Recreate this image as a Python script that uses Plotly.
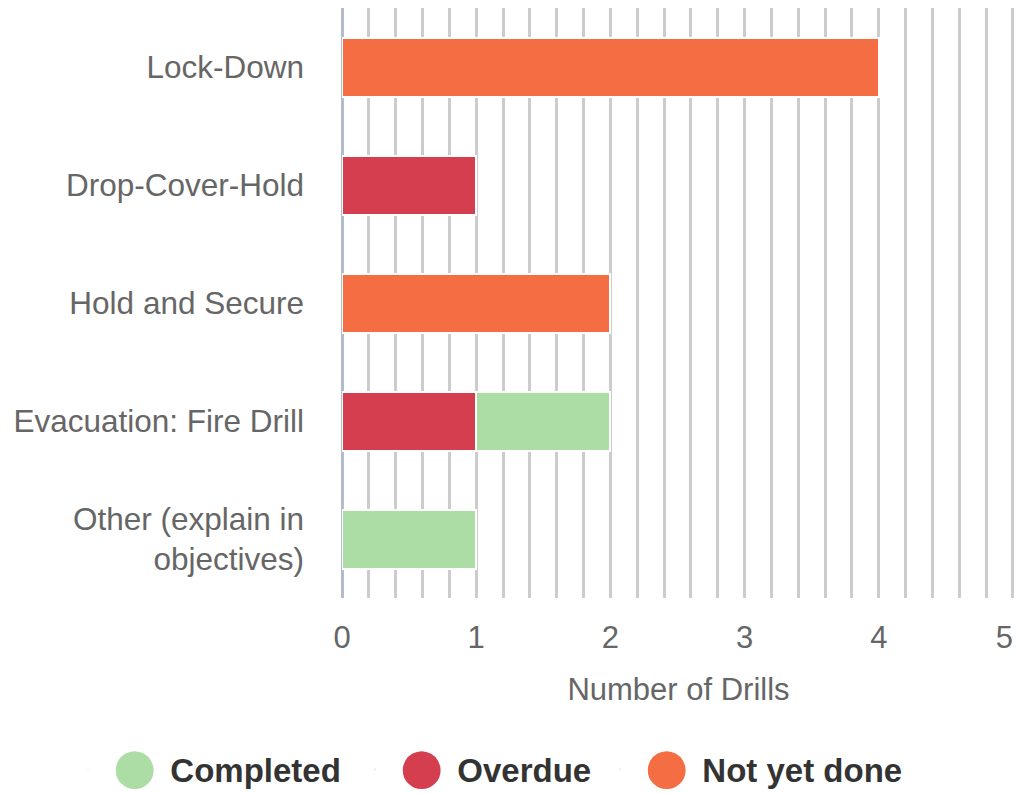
import plotly.graph_objects as go

categories = ["Lock-Down", "Drop-Cover-Hold", "Hold and Secure",
              "Evacuation: Fire Drill", "Other (explain in<br>objectives)"]
overdue = [0, 1, 0, 1, 0]
completed = [0, 0, 0, 1, 1]
not_yet_done = [4, 0, 2, 0, 0]
x_ticks = [0, 1, 2, 3, 4, 5]
x_ticktext = ["0", "1", "2", "3", "4", "5\u00a0\u00a0"]

C_COMPLETED = "#abdda4"
C_OVERDUE = "#d53e4f"
C_NOTYET = "#f46d43"
FONT = "Liberation Sans, Arial, sans-serif"

fig = go.Figure()
# stacking order: Overdue first, then Completed, then Not yet done
for name, vals, col in [("Overdue", overdue, C_OVERDUE),
                        ("Completed", completed, C_COMPLETED),
                        ("Not yet done", not_yet_done, C_NOTYET)]:
    fig.add_trace(go.Bar(
        y=categories, x=vals, name=name, orientation="h",
        marker=dict(color=col, line=dict(color="white", width=2)),
        showlegend=False,
    ))

# legend entries with large round swatches, one legend box per entry
legend_slots = [("Completed", C_COMPLETED, "legend", 68),
                ("Overdue", C_OVERDUE, "legend2", 355),
                ("Not yet done", C_NOTYET, "legend3", 600)]
legend_layouts = {}
for name, col, lg, xpx in legend_slots:
    label = (f'<span style="font-size:60px"><sub>'
             f'<span style="font-size:88px;color:{col}">\u25CF</span>'
             f'</sub></span>\u00a0{name}')
    fig.add_trace(go.Scatter(
        x=[None], y=[None], mode="markers", name=label, legend=lg,
        marker=dict(color=col, size=1, opacity=0),
    ))
    legend_layouts[lg] = dict(
        orientation="h", xref="container", yref="container",
        x=xpx / 1018, xanchor="left", y=0.031, yanchor="middle",
        itemwidth=30, valign="middle", bgcolor="rgba(0,0,0,0)",
        font=dict(family=FONT, size=33, color="#333333", weight="bold"),
    )

fig.update_layout(
    width=1018, height=794,
    barmode="stack", bargap=0.5,
    plot_bgcolor="white", paper_bgcolor="white",
    margin=dict(l=342, r=3, t=8, b=196),
    font=dict(family=FONT, size=31, color="#666666"),
    xaxis=dict(
        range=[0, 5.015], tickvals=x_ticks, ticktext=x_ticktext, ticks="",
        ticklabeloverflow="allow", automargin=False,
        showgrid=True, gridcolor="#cccccc", gridwidth=3,
        minor=dict(dtick=0.2, showgrid=True, gridcolor="#cccccc", gridwidth=3),
        zeroline=True, zerolinecolor="#b4bccb", zerolinewidth=3,
        showline=False, ticklabelstandoff=18,
        tickfont=dict(size=31, color="#666666"),
        title=dict(text="Number of Drills", standoff=24,
                   font=dict(size=31, color="#666666")),
        fixedrange=True,
    ),
    yaxis=dict(
        categoryorder="array", categoryarray=categories,
        autorange="reversed", ticks="", showgrid=False,
        ticklabelstandoff=37, tickfont=dict(size=31.5, color="#666666"),
        fixedrange=True,
    ),
    **legend_layouts,
)

fig.write_html("out.html", config={"displayModeBar": False},
               post_script="document.body.style.margin='0px';")
